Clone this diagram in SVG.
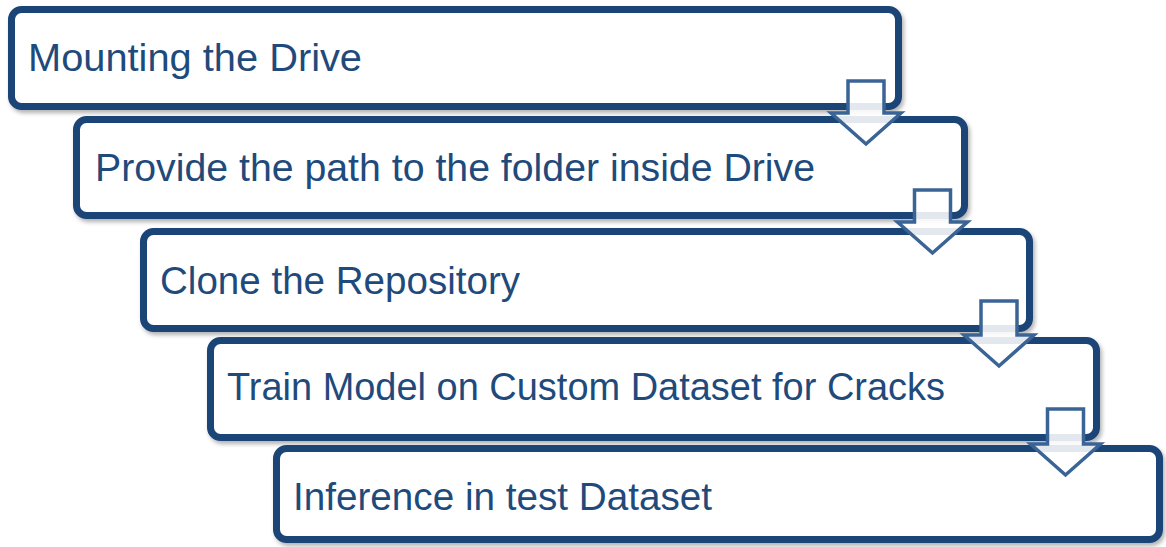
<svg xmlns="http://www.w3.org/2000/svg" width="1166" height="547" viewBox="0 0 1166 547">
<defs>
<filter id="sh" x="-5%" y="-10%" width="110%" height="130%">
<feDropShadow dx="2" dy="3" stdDeviation="2" flood-color="#000" flood-opacity="0.3"/>
</filter>
</defs>
<style>
.box{fill:#fff;stroke:#1f4477;stroke-width:7;filter:url(#sh)}
.lbl{font-family:"Liberation Sans",Arial,sans-serif;font-size:38px;fill:#1f4a7c}
.arr{fill:#fff;fill-opacity:0.88;stroke:#3a6496;stroke-width:3.5;stroke-linejoin:miter}
</style>
<rect width="1166" height="547" fill="#fff"/>
<g id="node1">
<rect class="box" x="11.5" y="9.5" width="887" height="97" rx="10"/>
<text class="lbl" x="28" y="71" textLength="334" lengthAdjust="spacingAndGlyphs">Mounting the Drive</text>
</g>
<g id="node2">
<rect class="box" x="76.5" y="119.5" width="888" height="96" rx="10"/>
<text class="lbl" x="95" y="181" textLength="720" lengthAdjust="spacingAndGlyphs">Provide the path to the folder inside Drive</text>
</g>
<g id="node3">
<rect class="box" x="143.5" y="231.5" width="886" height="97" rx="10"/>
<text class="lbl" x="160" y="294" textLength="360" lengthAdjust="spacingAndGlyphs">Clone the Repository</text>
</g>
<g id="node4">
<rect class="box" x="210.5" y="340.5" width="886" height="97" rx="10"/>
<text class="lbl" x="227" y="400" textLength="718" lengthAdjust="spacingAndGlyphs">Train Model on Custom Dataset for Cracks</text>
</g>
<g id="node5">
<rect class="box" x="276.5" y="448.5" width="883" height="91" rx="10"/>
<text class="lbl" x="293" y="510" textLength="419" lengthAdjust="spacingAndGlyphs">Inference in test Dataset</text>
</g>
<g id="connectors">
<polygon class="arr" points="848,81 884,81 884,113 901,113 866,144 831,113 848,113"/>
<polygon class="arr" points="914.5,190 950.5,190 950.5,222 967.5,222 932.5,253 897.5,222 914.5,222"/>
<polygon class="arr" points="981,301 1017,301 1017,335 1034,335 999,366 964,335 981,335"/>
<polygon class="arr" points="1047.5,409 1083.5,409 1083.5,444 1100.5,444 1065.5,475 1030.5,444 1047.5,444"/>
</g>
</svg>
